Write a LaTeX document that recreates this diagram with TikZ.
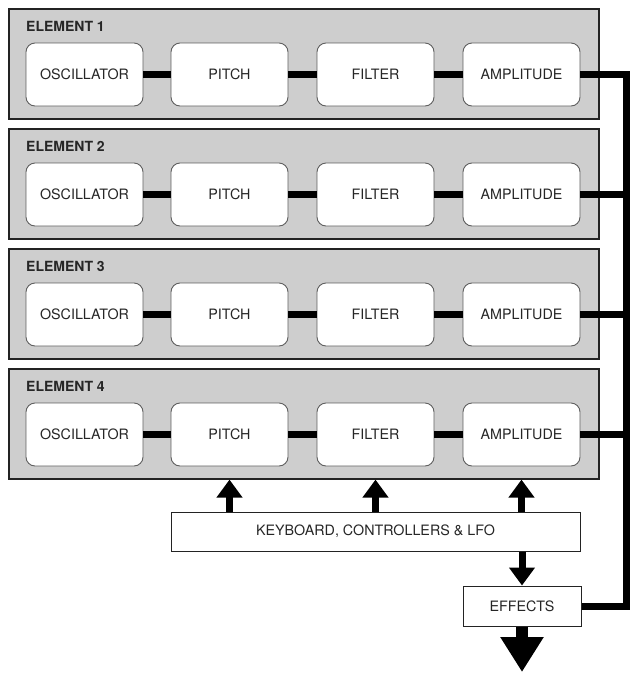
\documentclass[tikz,border=0pt]{standalone}
\usepackage{fontspec}
\setmainfont{TeX Gyre Heros}
\definecolor{PanelGray}{RGB}{206,206,206}
\definecolor{EdgeDark}{RGB}{35,35,35}
\definecolor{BoxEdge}{RGB}{95,95,95}
\usetikzlibrary{arrows.meta, positioning}

\begin{document}
\begin{tikzpicture}[x=1pt, y=-1pt, font=\fontsize{14.3}{17}\selectfont,
	panel/.style={draw=EdgeDark, fill=PanelGray, line width=1.6pt, anchor=north west, minimum width=590pt, minimum height=110pt},
	stage/.style={draw=BoxEdge, fill=white, line width=0.9pt, rounded corners=9pt, minimum width=117pt, minimum height=63pt, text=black!85},
	iobox/.style={draw=EdgeDark, fill=white, line width=1pt, minimum height=39pt, text=black!85},
	link/.style={line width=7pt, black, line join=miter},
	ctl/.style={line width=7pt, -{Triangle[width=25pt, length=18pt]}},
	outarrow/.style={line width=12pt, -{Triangle[width=41pt, length=35pt]}}]
	\useasboundingbox (0,0) rectangle (634,673);

	\foreach \y [count=\i] in {8,128,248,368}{
		\node[panel] (e\i) at (8,\y) {};
		\node[anchor=west, inner sep=0pt, font=\fontsize{14}{17}\selectfont\bfseries, text=black!85] (t\i) at (26,\y+18.5) {ELEMENT \i};
		\node[stage] (o\i) at (84.5,\y+66.5) {OSCILLATOR};
		\node[stage] (p\i) at (229.5,\y+66.5) {PITCH};
		\node[stage] (f\i) at (375.5,\y+66.5) {FILTER};
		\node[stage] (a\i) at (521.5,\y+66.5) {AMPLITUDE};
		\coordinate (b\i) at (626,\y+66.5);
		\draw[link] (o\i) -- (p\i) (p\i) -- (f\i) (f\i) -- (a\i);
		\ifnum\i>1
			\draw[link] (a\i) -- (b\i);
		\fi
	}

	\node[iobox, minimum width=409pt] (kb) at (375.5,531.5) {KEYBOARD, CONTROLLERS \& LFO};
	\node[iobox, minimum width=118pt, minimum height=40pt] (fx) at (522,606) {EFFECTS};
	\coordinate (sink) at (522,672);

	\draw[link] (a1) -- (b1) |- (fx);
	\foreach \s in {p,f,a}
		\draw[ctl] (kb.north -| \s4) -- (e4.south -| \s4);
	\draw[ctl] (kb.south -| fx) -- (fx);
	\draw[outarrow] (fx) -- (sink);
\end{tikzpicture}
\end{document}
